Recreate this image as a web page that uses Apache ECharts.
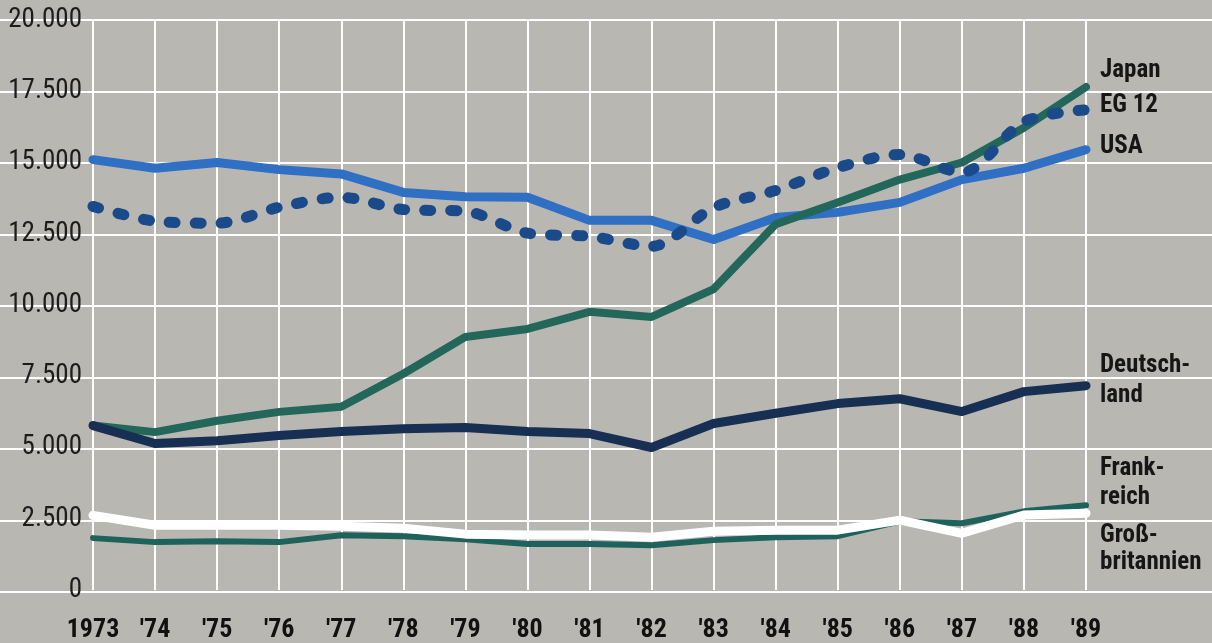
<!DOCTYPE html>
<html>
<head>
<meta charset="utf-8">
<script src="https://cdn.jsdelivr.net/npm/echarts@6/dist/echarts.min.js"></script>
<style>
  html, body { margin: 0; padding: 0; background: #b8b7b2; }
  #chart { width: 1212px; height: 643px; }
</style>
</head>
<body>
<div id="chart"></div>
<script>
// Jahre und Achsenbeschriftungen
const years = ['1973', "'74", "'75", "'76", "'77", "'78", "'79", "'80", "'81", "'82", "'83", "'84", "'85", "'86", "'87", "'88", "'89"];
const yTicks = [0, 2500, 5000, 7500, 10000, 12500, 15000, 17500, 20000];

// Werte je Land, 1973 bis 1989
const usa         = [15100, 14800, 15000, 14750, 14600, 13950, 13800, 13780, 12970, 12970, 12300, 13070, 13250, 13600, 14400, 14800, 15450];
const eg12        = [13460, 12940, 12870, 13430, 13780, 13350, 13290, 12520, 12410, 12060, 13420, 14020, 14820, 15280, 14650, 16430, 16850];
const japan       = [5770, 5540, 5940, 6250, 6430, 7590, 8880, 9160, 9760, 9580, 10560, 12830, 13600, 14400, 15000, 16220, 17650];
const deutschland = [5770, 5140, 5240, 5420, 5560, 5660, 5700, 5560, 5490, 5000, 5840, 6200, 6540, 6710, 6260, 6960, 7170];
const frankreich  = [1820, 1680, 1710, 1680, 1920, 1890, 1780, 1610, 1610, 1570, 1750, 1850, 1890, 2410, 2340, 2760, 2970];
const gb          = [2620, 2270, 2270, 2270, 2240, 2170, 1960, 1930, 1930, 1850, 2060, 2100, 2100, 2450, 1990, 2630, 2690];

const fmt = v => v === 0 ? '0' : String(v).replace(/\B(?=(\d{3})+(?!\d))/g, '.');

const chart = echarts.init(document.getElementById('chart'), null, { renderer: 'canvas' });

const NARROW = "'Liberation Sans Narrow', 'Roboto Condensed', 'Liberation Sans', sans-serif";

function line(name, data, color, width, extra) {
  return Object.assign({
    name, type: 'line', data,
    xAxisIndex: 1, yAxisIndex: 1,
    symbol: 'none',
    lineStyle: { color, width, cap: 'round', join: 'round' },
    silent: true,
    animation: false
  }, extra || {});
}

const labelStyle = { fontFamily: NARROW, fontWeight: 'bold', fontSize: 25, fill: '#161616' };
const sideLabels = [
  ['Japan', 72], ['EG 12', 107], ['USA', 148],
  ['Deutsch-', 367], ['land', 397],
  ['Frank-', 470], ['reich', 499],
  ['Groß-', 537], ['britannien', 564]
];

chart.setOption({
  backgroundColor: '#b8b7b2',
  animation: false,
  grid: [
    { left: 0, right: 0, top: 20, bottom: 51 },
    { left: 93, right: 126, top: 20, bottom: 51 }
  ],
  xAxis: [
    { gridIndex: 0, type: 'value', min: 0, max: 1, show: false },
    {
      gridIndex: 1, type: 'category', data: years, boundaryGap: false,
      axisLine: { show: false }, axisTick: { show: false },
      axisLabel: { interval: 0, color: '#111', fontFamily: NARROW, fontWeight: 'bold', fontSize: 26, margin: 27 },
      splitLine: { show: true, interval: 0, lineStyle: { color: '#ffffff', width: 2 } }
    }
  ],
  yAxis: [
    {
      gridIndex: 0, type: 'value', min: 0, max: 20000, interval: 2500,
      axisLine: { show: false }, axisTick: { show: false }, axisLabel: { show: false },
      splitLine: { show: true, lineStyle: { color: '#ffffff', width: 2 } }
    },
    {
      gridIndex: 1, type: 'value', min: yTicks[0], max: yTicks[yTicks.length - 1], interval: 2500,
      axisLine: { show: false }, axisTick: { show: false },
      splitLine: { show: false },
      axisLabel: { color: '#1c1c1c', fontFamily: NARROW, fontSize: 27, margin: 11, formatter: fmt }
    }
  ],
  series: [
    line('Frankreich', frankreich, '#1f625c', 6),
    line('Großbritannien', gb, '#ffffff', 9),
    line('USA', usa, '#2f6fc4', 9),
    line('Japan', japan, '#23675a', 8),
    line('EG 12', eg12, '#1a4a8a', 11, { smooth: 0.3, lineStyle: { color: '#1a4a8a', width: 11, cap: 'round', type: [6, 20] } }),
    line('Deutschland', deutschland, '#172f52', 9)
  ],
  graphic: sideLabels.map(([t, y]) => ({
    type: 'text', left: 1100, top: y - 14, silent: true,
    style: Object.assign({ text: t }, labelStyle)
  }))
});
</script>
</body>
</html>
